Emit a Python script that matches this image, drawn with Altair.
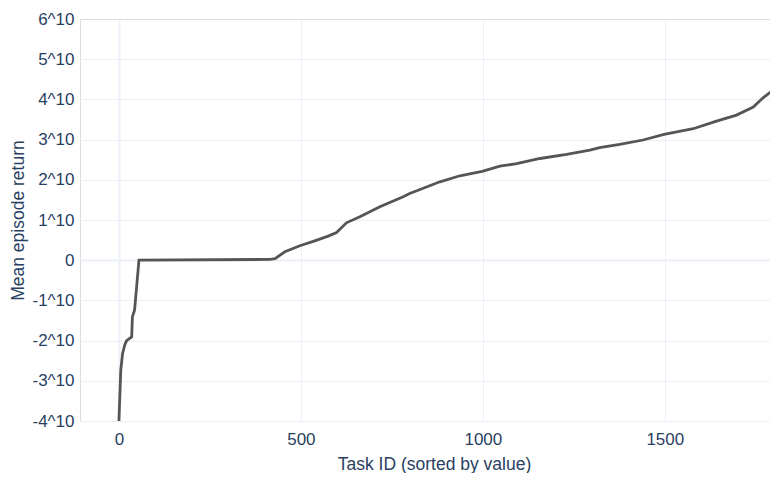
import altair as alt
import pandas as pd

# Sorted task values (x = task index, y = mean episode return in units of "^10")
task_ids = [0, 5, 10, 16, 21, 35, 37, 43, 55, 415, 429, 456, 497, 534, 575, 598,
            625, 662, 717, 781, 799, 845, 882, 937, 998, 1047, 1093, 1157, 1230,
            1294, 1321, 1376, 1440, 1498, 1578, 1642, 1697, 1743, 1770, 1798,
            1810, 1830, 1850]
returns = [-4.0, -2.74, -2.32, -2.11, -2.0, -1.91, -1.41, -1.24, 0.0, 0.02, 0.04,
           0.21, 0.36, 0.47, 0.60, 0.69, 0.93, 1.08, 1.33, 1.58, 1.66, 1.82,
           1.95, 2.10, 2.21, 2.34, 2.40, 2.53, 2.63, 2.74, 2.80, 2.88, 2.99,
           3.13, 3.27, 3.46, 3.61, 3.81, 4.04, 4.23, 4.44, 4.75, 5.1]

y_ticks = [-4, -3, -2, -1, 0, 1, 2, 3, 4, 5, 6]
x_ticks = [0, 500, 1000, 1500]

df = pd.DataFrame({"task": task_ids, "ret": returns})

TEXT = "#2a3f5f"
GRID = "#ebf0f8"
FONT = "Liberation Sans"

chart = alt.Chart(df).mark_line(color="#555555", strokeWidth=2.8, clip=True).encode(
    x=alt.X(
        "task:Q",
        scale=alt.Scale(domain=[-107, 1789], nice=False, zero=False),
        axis=alt.Axis(
            values=x_ticks,
            format="d",
            title="Task ID (sorted by value)",
            grid=True,
            gridColor=GRID,
            gridWidth={"condition": {"test": "datum.value == 0", "value": 2}, "value": 1},
            domain=False,
            ticks=False,
            labelPadding=10,
            labelFontSize=17,
            labelColor=TEXT,
            labelFont=FONT,
            titleFont=FONT,
            titleFontSize=17.5,
            titleFontWeight="normal",
            titleColor=TEXT,
            titleX=354,
            titleY=48,
            titleAlign="center",
            titleBaseline="alphabetic",
            titleAnchor="start",
        ),
    ),
    y=alt.Y(
        "ret:Q",
        scale=alt.Scale(domain=[-4, 6], nice=False, zero=False),
        axis=alt.Axis(
            values=y_ticks,
            labelExpr="datum.value == 0 ? '0' : datum.value + '^10'",
            title="Mean episode return",
            grid=True,
            gridColor=GRID,
            gridOpacity={"condition": {"test": "datum.value >= 6", "value": 0}, "value": 1},
            gridWidth={"condition": {"test": "datum.value == 0", "value": 2}, "value": 1},
            domain=False,
            ticks=False,
            labelPadding=6,
            labelFontSize=17,
            labelColor=TEXT,
            labelFont=FONT,
            titleFont=FONT,
            titleFontSize=17.5,
            titleFontWeight="normal",
            titleColor=TEXT,
            titleX=-57,
            titleY=201,
            titleAngle=-90,
            titleAlign="center",
            titleBaseline="alphabetic",
            titleAnchor="start",
        ),
    ),
).properties(
    width=690,
    height=402,
    padding={"left": 72, "top": 11, "right": 0, "bottom": 52},
    autosize=alt.AutoSizeParams(type="none"),
).configure_view(strokeWidth=0).configure(background="white")

chart.save("out.html", embed_options={"renderer": "svg", "actions": False})
